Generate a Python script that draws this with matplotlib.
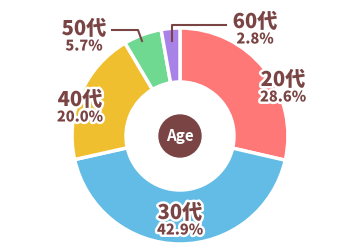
import matplotlib
matplotlib.use("Agg")
import matplotlib.pyplot as plt
import matplotlib.patheffects as pe

categories = ["20代", "30代", "40代", "50代", "60代"]
values = [28.6, 42.9, 20.0, 5.7, 2.8]
colors = ["#FF7878", "#63BCE5", "#F0BF30", "#6FD891", "#A982E8"]
center_label = "Age"

plt.rcParams['font.family'] = ['Noto Sans CJK JP', 'DejaVu Sans']
brown = "#7A4444"

fig = plt.figure(figsize=(3.6, 2.5), dpi=100)
ax = fig.add_axes([0, 0, 1, 1])

cx, cy, R = 180, 114, 108
ax.pie(values, colors=colors, startangle=90, counterclock=False,
       center=(cx, cy), radius=R, frame=True,
       wedgeprops=dict(width=54, edgecolor='white', linewidth=2.5))
ax.set_xlim(0, 360)
ax.set_ylim(0, 250)
ax.set_aspect('equal')
ax.axis('off')

ax.add_patch(plt.Circle((cx, cy), 21, color=brown, zorder=5))
ax.text(cx, cy, center_label, color='white', fontsize=11, fontweight='bold',
        ha='center', va='center', zorder=6)

stroke = [pe.withStroke(linewidth=3.5, foreground='white')]
label_pos = [(283, 170), (180, 37), (80, 150), (84, 221), (255, 228)]
for cat, v, (x, y) in zip(categories, values, label_pos):
    ax.text(x, y, cat, color=brown, fontsize=14.5, fontweight='heavy',
            ha='center', va='center', path_effects=stroke, zorder=7)
    ax.text(x, y - 17, f"{v:.1f}%", color=brown, fontsize=10.5, fontweight='heavy',
            ha='center', va='center', path_effects=stroke, zorder=7)

# leader lines
ax.plot([112, 138, 142], [220, 220, 209], color=brown, lw=1.5, zorder=8)
ax.plot([226, 172, 172], [225, 225, 209], color=brown, lw=1.5, zorder=8)

fig.savefig("out.png", dpi=100)
